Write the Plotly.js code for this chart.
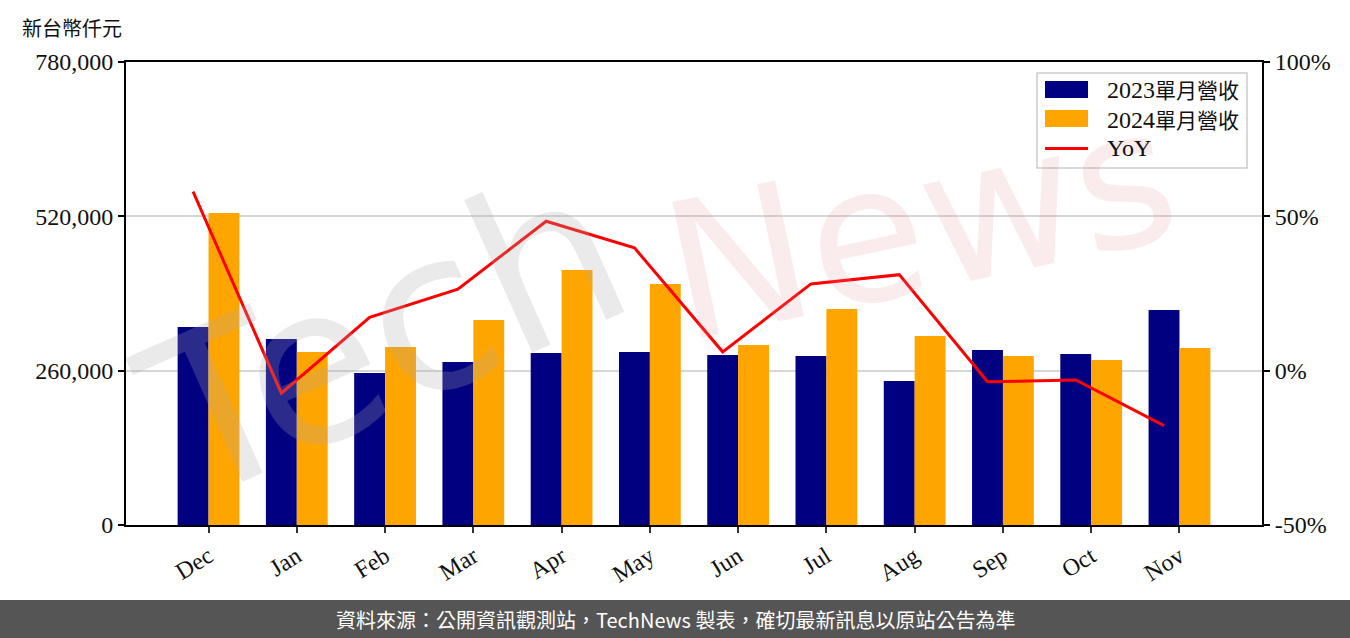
<!DOCTYPE html>
<html>
<head>
<meta charset="utf-8">
<script src="https://cdn.plot.ly/plotly-3.0.1.min.js"></script>
<style>html,body{margin:0;padding:0;background:#fff;}#chart{width:1350px;height:638px;}</style>
</head>
<body>
<div id="chart"></div>
<script>
const months = ['Dec','Jan','Feb','Mar','Apr','May','Jun','Jul','Aug','Sep','Oct','Nov'];
const rev2023 = [333500, 313400, 256100, 274600, 289800, 291400, 286400, 284700, 242600, 294800, 288100, 362200];
const rev2024 = [525600, 291400, 299900, 345400, 429600, 406000, 303300, 363900, 318400, 284700, 278000, 298200];
const yoy = [58.0, -7.3, 17.3, 26.4, 48.4, 39.8, 6.1, 28.1, 31.1, -3.6, -3.0, -17.8];
const leftTicks = [0, 260000, 520000, 780000];
const rightTicks = [-50, 0, 50, 100];
const seriesNames = ['2023單月營收', '2024單月營收', 'YoY'];
const seriesColors = ['#000080', '#FFA500', '#FF0000'];

const idx = months.map((m, i) => i);
const serif = 'Liberation Serif, Times New Roman, serif';
const cjk = 'Noto Sans CJK TC, sans-serif';

const traces = [
  {type:'bar', name: seriesNames[0], x: idx.map(i => i - 0.175), y: rev2023, width: 0.35,
   marker:{color: seriesColors[0]}, yaxis:'y'},
  {type:'bar', name: seriesNames[1], x: idx.map(i => i + 0.175), y: rev2024, width: 0.35,
   marker:{color: seriesColors[1]}, yaxis:'y'},
  {type:'scatter', mode:'lines', name: seriesNames[2], x: idx.map(i => i - 0.175), y: yoy,
   line:{color: seriesColors[2], width:3}, yaxis:'y2'}
];

const L = 126, R = 1262, T = 62, B = 525;
const pw = R - L, ph = B - T;
const px = v => (v - L) / pw;
const py = v => (B - v) / ph;

function legendLabel(name) {
  const m = name.match(/^([0-9A-Za-z]+)(.*)$/);
  if (m && m[2]) return m[1] + '<span style="font-family:Noto Sans CJK TC;font-size:21px">' + m[2] + '</span>';
  return name;
}

// custom legend (box + swatches + labels)
const legendShapes = [
  {type:'rect', xref:'paper', yref:'paper', x0: px(1037), x1: px(1247), y0: py(168), y1: py(73),
   fillcolor:'rgba(255,255,255,0.8)', line:{color:'#cccccc', width:1.5}, layer:'above'},
  {type:'rect', xref:'paper', yref:'paper', x0: px(1045), x1: px(1088), y0: py(98), y1: py(81),
   fillcolor: seriesColors[0], line:{width:0}, layer:'above'},
  {type:'rect', xref:'paper', yref:'paper', x0: px(1045), x1: px(1088), y0: py(127), y1: py(110),
   fillcolor: seriesColors[1], line:{width:0}, layer:'above'},
  {type:'line', xref:'paper', yref:'paper', x0: px(1045), x1: px(1088), y0: py(148.5), y1: py(148.5),
   line:{color: seriesColors[2], width:3}, layer:'above'}
];
const legendRows = [89.5, 118.5, 148];
const legendAnn = seriesNames.map((n, k) => ({
  text: legendLabel(n), xref:'paper', yref:'paper', x: px(1105), y: py(legendRows[k]),
  xanchor:'left', yanchor:'middle', showarrow:false,
  font:{family: serif, size: 24, color:'#111'}
}));

const layout = {
  width: 1350, height: 638,
  margin: {l: L, r: 1350 - R, t: T, b: 638 - B},
  paper_bgcolor: '#ffffff', plot_bgcolor: '#ffffff',
  barmode: 'overlay',
  showlegend: false,
  xaxis: {range: [-0.935, 11.935], tickmode: 'array', tickvals: idx, ticktext: months,
    tickangle: -32, ticks: 'outside', ticklen: 6, tickwidth: 2, tickcolor: '#333',
    showline: true, linecolor: '#000', linewidth: 2, mirror: true, showgrid: false, zeroline: false,
    tickfont: {family: serif, size: 24, color: '#111'}},
  yaxis: {range: [0, 780000], tickmode: 'array', tickvals: leftTicks,
    ticktext: leftTicks.map(v => v.toLocaleString('en-US')),
    ticks: 'outside', ticklen: 6, tickwidth: 2, tickcolor: '#000',
    showline: true, linecolor: '#000', linewidth: 2, mirror: false,
    showgrid: true, gridcolor: '#d6d6d6', gridwidth: 2, zeroline: false,
    tickfont: {family: serif, size: 24, color: '#111'}},
  yaxis2: {range: [-50, 100], overlaying: 'y', side: 'right', tickmode: 'array',
    tickvals: rightTicks, ticktext: rightTicks.map(v => v + '%'),
    ticks: 'outside', ticklen: 6, tickwidth: 2, tickcolor: '#000',
    showline: true, linecolor: '#000', linewidth: 2, showgrid: false, zeroline: false,
    tickfont: {family: serif, size: 24, color: '#111'}},
  shapes: [
    {type: 'rect', xref: 'paper', yref: 'paper', x0: px(0), x1: px(1350), y0: py(600), y1: py(640),
     fillcolor: '#555555', line: {width: 0}, layer: 'above'}
  ].concat(legendShapes),
  annotations: [
    {text: 'Tech', xref: 'paper', yref: 'paper', x: px(385), y: py(335), showarrow: false,
     textangle: -24, font: {family: 'DejaVu Sans', size: 220, color: 'rgba(170,170,170,0.25)'},
     xanchor: 'center', yanchor: 'middle'},
    {text: 'News', xref: 'paper', yref: 'paper', x: px(920), y: py(225), showarrow: false,
     textangle: -12, font: {family: 'DejaVu Sans', size: 190, color: 'rgba(225,140,140,0.17)'},
     xanchor: 'center', yanchor: 'middle'},
    {text: '新台幣仟元', xref: 'paper', yref: 'paper', x: px(20), y: py(27), showarrow: false,
     xanchor: 'left', yanchor: 'middle', font: {family: cjk, size: 20, color: '#111'}},
    {text: '資料來源：公開資訊觀測站，TechNews 製表，確切最新訊息以原站公告為準', xref: 'paper', yref: 'paper',
     x: px(675), y: py(619), showarrow: false, xanchor: 'center', yanchor: 'middle',
     font: {family: cjk, size: 20, color: '#ffffff'}}
  ].concat(legendAnn)
};

Plotly.newPlot('chart', traces, layout, {displayModeBar: false, staticPlot: true});
</script>
</body>
</html>
